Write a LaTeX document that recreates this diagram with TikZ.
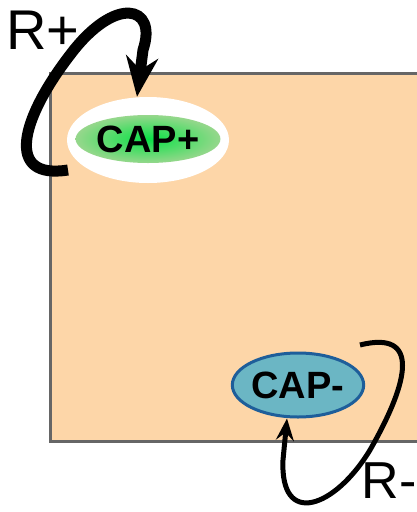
\documentclass[tikz,border=0pt]{standalone}
\usepackage{fontspec}
\setmainfont{Liberation Sans}
\usetikzlibrary{arrows.meta,shapes.geometric}
\definecolor{peach}{HTML}{FDD6A8}
\definecolor{frame}{HTML}{666666}
\definecolor{capblue}{HTML}{6BB6C4}
\definecolor{capedge}{HTML}{1E5E9A}
\tikzset{
  lbl/.style={inner sep=0pt, font=\fontsize{56}{56}\selectfont},
  captext/.style={font=\bfseries\fontsize{38}{38}\selectfont},
  loopthick/.style={line width=11pt, -{Stealth[length=40pt,width=32pt,inset=13pt]}},
  loopthin/.style={line width=5pt, -{Stealth[length=22pt,width=18pt,inset=8pt]}},
}
\begin{document}
\begin{tikzpicture}[x=1pt,y=-1pt]
\useasboundingbox (0,0) rectangle (417,512);
\fill[white] (0,0) rectangle (417,512);
\draw[frame, fill=peach, line width=3pt] (50,73) rectangle (425,441);
\node[ellipse, fill=white, minimum width=162pt, minimum height=86pt, inner sep=0pt] (wp) at (148,140) {};
\node[ellipse, inner color={rgb,255:red,10;green,225;blue,70}, outer color={rgb,255:red,150;green,215;blue,140}, minimum width=124pt, minimum height=48pt, inner sep=0pt, captext] (capp) at (148,139) {CAP+};
\node[ellipse, fill=capblue, draw=capedge, line width=3pt, minimum width=130pt, minimum height=64pt, inner sep=0pt, captext] (capm) at (298,385) {CAP-};
\node[lbl, anchor=west] (rp) at (6,30) {R+};
\node[inner sep=0pt, font=\fontsize{52}{52}\selectfont, anchor=east] (rm) at (417,481) {R-};
\coordinate (sp) at (68,170);
\coordinate (sm) at (360,345);
\draw[loopthick] (sp) .. controls (5,180) and (20,120) .. (70,55) .. controls (115,-5) and (158,5) .. (143,50) -- (wp.north -| 137,0) ;
\draw[loopthin] (sm) .. controls (420,330) and (410,380) .. (370,450) .. controls (335,508) and (280,528) .. (283,460) -- (capm.south -| 287,0);
\end{tikzpicture}
\end{document}
